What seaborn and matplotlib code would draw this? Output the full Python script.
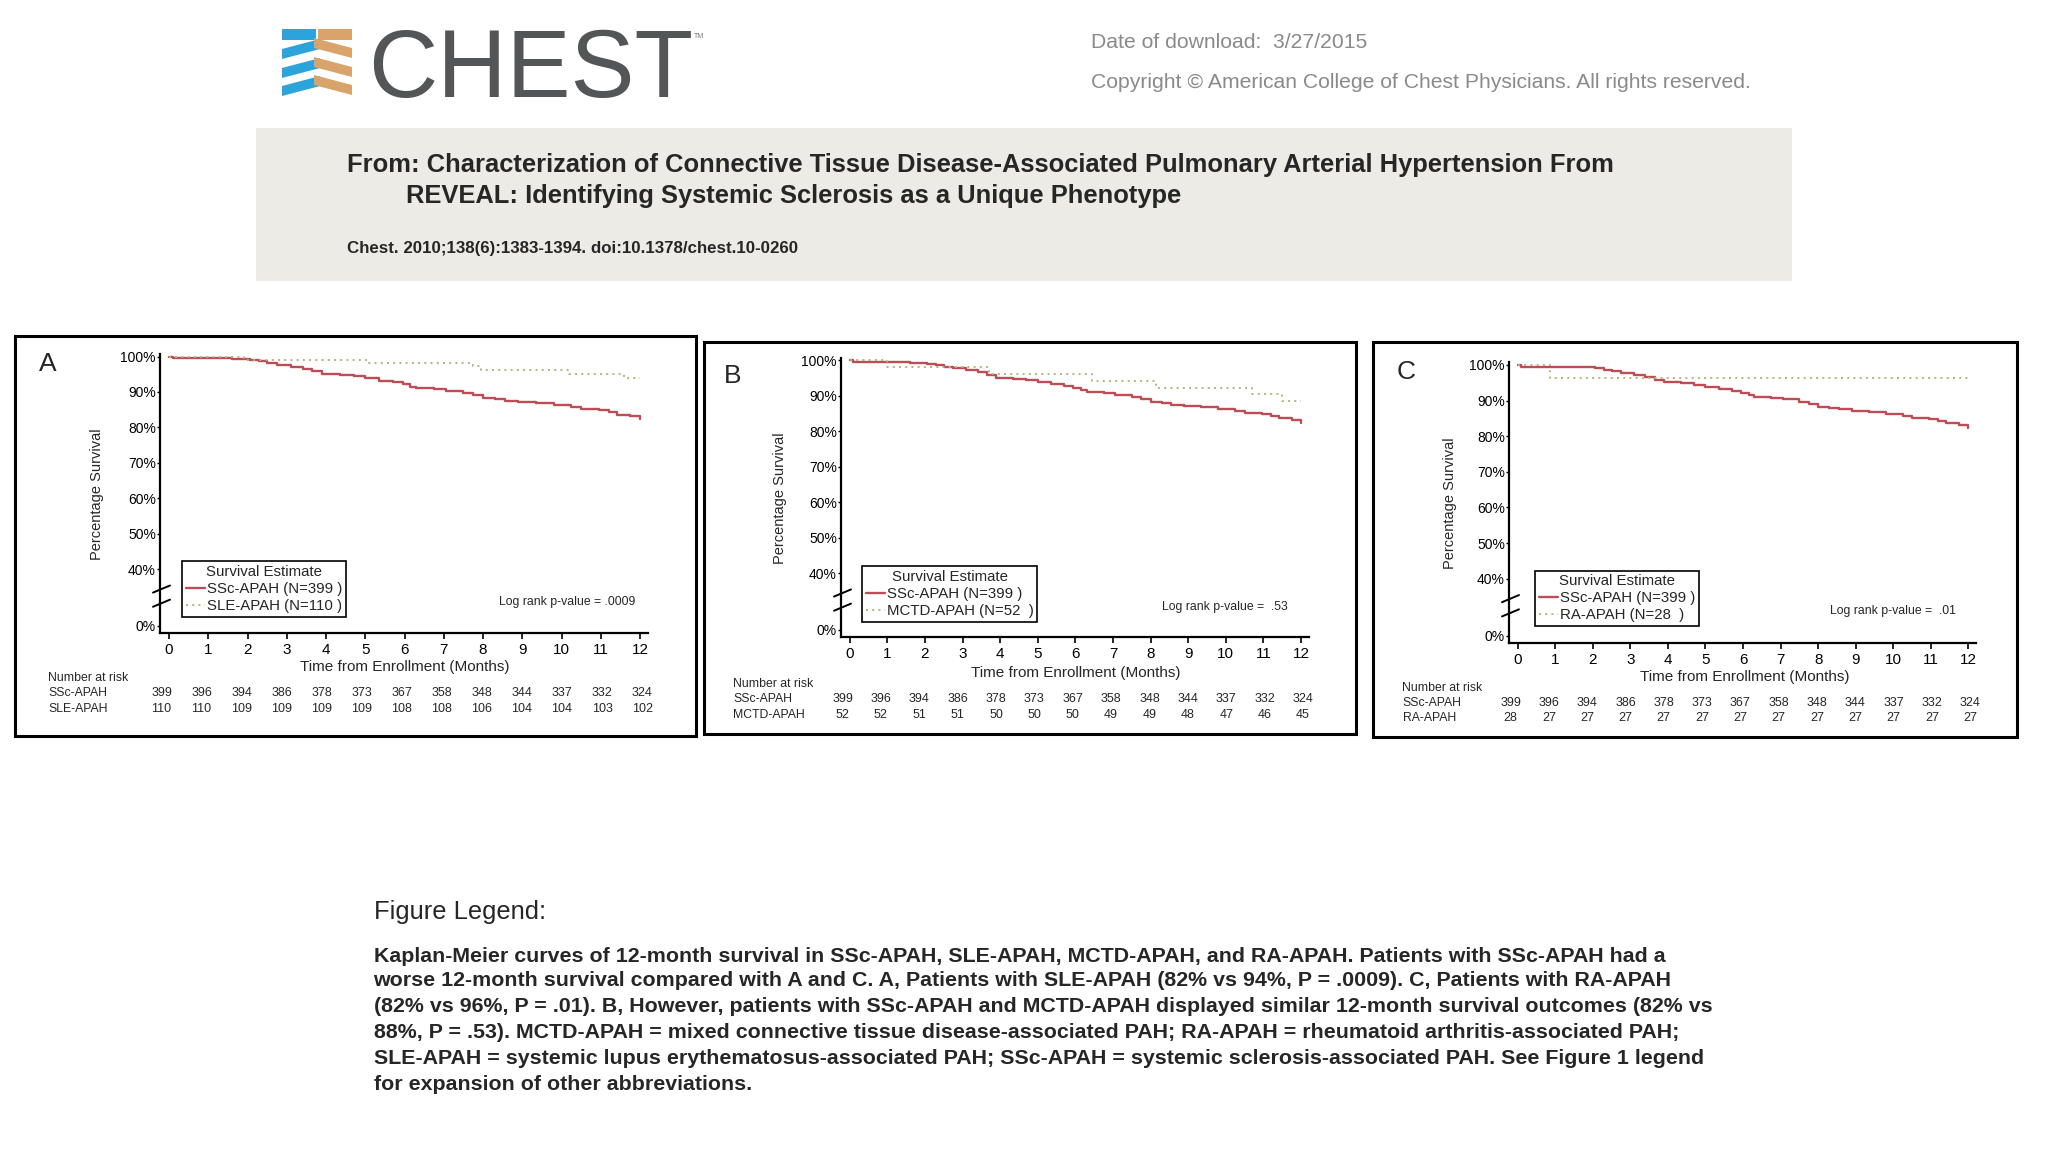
import matplotlib
matplotlib.use("Agg")
import matplotlib.pyplot as plt
import matplotlib.patches as mpatches
import matplotlib.transforms as mtransforms
import seaborn as sns

W, H = 2048, 1152

# ---- data ----
months = list(range(13))

# SSc-APAH curve (same in all three panels)
ssc_t = [0, 0.1, 1.6, 2.05, 2.3, 2.5, 2.75, 3.1, 3.4, 3.65, 3.9, 4.35, 4.7, 5.0, 5.35,
         5.7, 5.95, 6.15, 6.3, 6.75, 7.05, 7.5, 7.75, 8.0, 8.3, 8.55, 8.9, 9.35, 9.8,
         10.25, 10.5, 10.95, 11.2, 11.4, 11.75, 12.0]
ssc_s = [100, 99.5, 99.3, 99.0, 98.7, 98.2, 97.7, 97.1, 96.6, 95.8, 95.1, 94.8, 94.4, 93.8, 93.2,
         92.8, 92.2, 91.5, 91.0, 90.7, 90.3, 89.7, 89.1, 88.3, 88.0, 87.5, 87.2, 86.8, 86.3,
         85.7, 85.2, 84.8, 84.3, 83.6, 83.1, 82.4]

sle_t = [0, 1.9, 5.1, 7.75, 7.95, 10.2, 11.6, 12.0]
sle_s = [100, 99.1, 98.2, 97.2, 96.1, 95.1, 94.0, 94.0]

mctd_t = [0, 1.0, 3.7, 6.45, 8.15, 10.7, 11.5, 12.0]
mctd_s = [100, 98.1, 96.2, 94.2, 92.3, 90.4, 88.5, 88.5]

ra_t = [0, 0.87, 12.0]
ra_s = [100, 96.4, 96.4]

ssc_risk = [399, 396, 394, 386, 378, 373, 367, 358, 348, 344, 337, 332, 324]
sle_risk = [110, 110, 109, 109, 109, 109, 108, 108, 106, 104, 104, 103, 102]
mctd_risk = [52, 52, 51, 51, 50, 50, 50, 49, 49, 48, 47, 46, 45]
ra_risk = [28, 27, 27, 27, 27, 27, 27, 27, 27, 27, 27, 27, 27]

ytick_vals = [24, 40, 50, 60, 70, 80, 90, 100]   # 0% sits below the axis break
ytick_labels = ["0%", "40%", "50%", "60%", "70%", "80%", "90%", "100%"]

legend_lines = [
    "Kaplan-Meier curves of 12-month survival in SSc-APAH, SLE-APAH, MCTD-APAH, and RA-APAH. Patients with SSc-APAH had a",
    "worse 12-month survival compared with A and C. A, Patients with SLE-APAH (82% vs 94%, P = .0009). C, Patients with RA-APAH",
    "(82% vs 96%, P = .01). B, However, patients with SSc-APAH and MCTD-APAH displayed similar 12-month survival outcomes (82% vs",
    "88%, P = .53). MCTD-APAH = mixed connective tissue disease-associated PAH; RA-APAH = rheumatoid arthritis-associated PAH;",
    "SLE-APAH = systemic lupus erythematosus-associated PAH; SSc-APAH = systemic sclerosis-associated PAH. See Figure 1 legend",
    "for expansion of other abbreviations.",
]

RED = "#bd4c57"
GREEN = "#a9b97a"

sns.set_style("ticks")
plt.rcParams["font.family"] = ["Liberation Sans", "DejaVu Sans"]

fig = plt.figure(figsize=(W / 100, H / 100), dpi=100)


def fx(x):
    return x / W


def fy(y):
    return 1 - y / H


def ftext(x, y, s, **kw):
    fig.text(fx(x), fy(y), s, **kw)


# ---- header ----
# logo icon (blue / orange ribs)
rows = [34, 54, 73, 91]
for i, yc in enumerate(rows):
    if i == 0:
        blue = [(282, yc - 5.5), (316, yc - 5.5), (316, yc + 5.5), (282, yc + 5.5)]
        orng = [(318, yc - 5.5), (352, yc - 5.5), (352, yc + 5.5), (318, yc + 5.5)]
    else:
        blue = [(282, yc - 5), (320, yc - 15), (320, yc - 5), (282, yc + 5)]
        orng = [(314, yc - 16), (352, yc - 6), (352, yc + 4), (314, yc - 6)]
    for pts, col in ((blue, "#2da3dc"), (orng, "#d9a46b")):
        fig.patches.append(mpatches.Polygon([(fx(a), fy(b)) for a, b in pts], closed=True,
                                            facecolor=col, edgecolor="none",
                                            transform=fig.transFigure))
ftext(368, 97, "CHEST", fontsize=69, color="#545557", va="baseline", ha="left")
ftext(694, 36, "TM", fontsize=5, color="#777777", va="center", ha="left")

ftext(1091, 43, "Date of download:  3/27/2015", fontsize=15.2, color="#8a8a8a", va="center")
ftext(1091, 82, "Copyright \u00a9 American College of Chest Physicians. All rights reserved.",
      fontsize=15.2, color="#8a8a8a", va="center")

fig.patches.append(mpatches.Rectangle((fx(256), fy(281)), fx(1792) - fx(256), fy(128) - fy(281),
                                      facecolor="#ecebe6", edgecolor="none",
                                      transform=fig.transFigure, zorder=0))
ftext(347, 165, "From: Characterization of Connective Tissue Disease-Associated Pulmonary Arterial Hypertension From",
      fontsize=18.4, fontweight="bold", va="center")
ftext(406, 196, "REVEAL: Identifying Systemic Sclerosis as a Unique Phenotype",
      fontsize=18.4, fontweight="bold", va="center")
ftext(347, 248, "Chest. 2010;138(6):1383-1394. doi:10.1378/chest.10-0260",
      fontsize=12.2, fontweight="bold", va="center")

# ---- panels ----
panels = [
    dict(letter="A", box=(15, 336, 696, 736), left=160, right=648, y100=356.5, bottom=633,
         letter_xy=(48, 364), ylab_xy=(97, 494), xlab_xy=(405, 667), nar_xy=(48, 678),
         rows_y=(693.5, 709), leg_xy=(182, 561), lr_xy=(567, 602), lr_text="Log rank p-value = .0009",
         other=("SLE-APAH", "SLE-APAH (N=110 )", sle_t, sle_s, sle_risk)),
    dict(letter="B", box=(703.5, 341.5, 1355.5, 734), left=841, right=1308.6, y100=360.2, bottom=637,
         letter_xy=(733, 376), ylab_xy=(780, 498), xlab_xy=(1076, 672.7), nar_xy=(733, 684),
         rows_y=(699.3, 715), leg_xy=(862, 566), lr_xy=(1225, 606.7), lr_text="Log rank p-value =  .53",
         other=("MCTD-APAH", "MCTD-APAH (N=52  )", mctd_t, mctd_s, mctd_risk)),
    dict(letter="C", box=(1373, 341.5, 2017, 737), left=1509, right=1976, y100=364.9, bottom=642.8,
         letter_xy=(1406, 372), ylab_xy=(1450, 503), xlab_xy=(1745, 676.7), nar_xy=(1402.5, 688.3),
         rows_y=(703.3, 718.3), leg_xy=(1535, 570.5), lr_xy=(1893, 611), lr_text="Log rank p-value =  .01",
         other=("RA-APAH", "RA-APAH (N=28  )", ra_t, ra_s, ra_risk)),
]

YLO, YHI = 22, 100.7
XLO, XHI = -0.23, 12.2

for p in panels:
    x0, y0, x1, y1 = p["box"]
    fig.patches.append(mpatches.Rectangle((fx(x0), fy(y1)), fx(x1) - fx(x0), fy(y0) - fy(y1),
                                          facecolor="none", edgecolor="black", linewidth=2.2,
                                          transform=fig.transFigure))
    k = (p["bottom"] - p["y100"]) / (100 - YLO)
    top = p["y100"] - (YHI - 100) * k
    ax = fig.add_axes([fx(p["left"]), fy(p["bottom"]), fx(p["right"]) - fx(p["left"]),
                       fy(top) - fy(p["bottom"])])
    ax.set_facecolor("none")

    oname, olabel, ot, os_, orisk = p["other"]
    sns.lineplot(x=ssc_t, y=ssc_s, ax=ax, color=RED, linewidth=1.7, drawstyle="steps-post",
                 label="SSc-APAH (N=399 )")
    sns.lineplot(x=ot, y=os_, ax=ax, color=GREEN, linewidth=1.4, linestyle=(0, (1, 2.2)),
                 drawstyle="steps-post", label=olabel)

    ax.set_xlim(XLO, XHI)
    ax.set_ylim(YLO, YHI)
    ax.set_xticks(months)
    ax.set_xticklabels([str(m) for m in months])
    ax.set_yticks(ytick_vals)
    ax.set_yticklabels(ytick_labels)
    ax.tick_params(axis="x", length=4, width=1.2, labelsize=11, pad=3, colors="black")
    ax.tick_params(axis="y", length=2, width=1.0, labelsize=10, pad=1, colors="black")
    sns.despine(ax=ax)
    for sp in ("left", "bottom"):
        ax.spines[sp].set_linewidth(1.6)
        ax.spines[sp].set_color("black")
    ax.set_xlabel("")
    ax.set_ylabel("")

    # axis break marks
    wpx = p["right"] - p["left"]
    for yb in (34.4, 30.4):
        ax.plot([-7 / wpx, 10 / wpx], [yb - 1.0, yb + 1.0], color="black", lw=1.4,
                transform=mtransforms.blended_transform_factory(ax.transAxes, ax.transData),
                clip_on=False)

    leg = ax.legend(title="Survival Estimate", loc="upper left",
                    bbox_to_anchor=(fx(p["leg_xy"][0]), fy(p["leg_xy"][1])),
                    bbox_transform=fig.transFigure, frameon=True, fancybox=False,
                    edgecolor="black", framealpha=1, fontsize=10.8, title_fontsize=10.8,
                    handlelength=1.3, handletextpad=0.1, borderpad=0.25, labelspacing=0.2,
                    borderaxespad=0)
    leg.get_frame().set_linewidth(1.2)

    ftext(*p["letter_xy"], p["letter"], fontsize=19, ha="center", va="center")
    ftext(*p["ylab_xy"], "Percentage Survival", fontsize=10.5, rotation=90, ha="center", va="center")
    ftext(*p["xlab_xy"], "Time from Enrollment (Months)", fontsize=11, ha="center", va="center")
    ftext(*p["lr_xy"], p["lr_text"], fontsize=8.8, ha="center", va="center")
    ftext(*p["nar_xy"], "Number at risk", fontsize=8.8, ha="left", va="center")

    tr = mtransforms.blended_transform_factory(ax.transData, fig.transFigure)
    for name, risk, ry in (("SSc-APAH", ssc_risk, p["rows_y"][0]), (oname, orisk, p["rows_y"][1])):
        ftext(p["nar_xy"][0], ry, name, fontsize=8.8, ha="left", va="center")
        for m, n in zip(months, risk):
            ax.text(-0.19 + 1.02 * m, fy(ry), str(n), transform=tr, fontsize=9,
                    ha="center", va="center")

# ---- figure legend ----
ftext(373.5, 911.6, "Figure Legend:", fontsize=18.4, va="center")
for yy, line in zip([956, 981, 1007, 1032, 1058, 1084], legend_lines):
    ftext(373.5, yy, line, fontsize=15.4, fontweight="bold", va="center")

fig.savefig("out.png", dpi=100)
